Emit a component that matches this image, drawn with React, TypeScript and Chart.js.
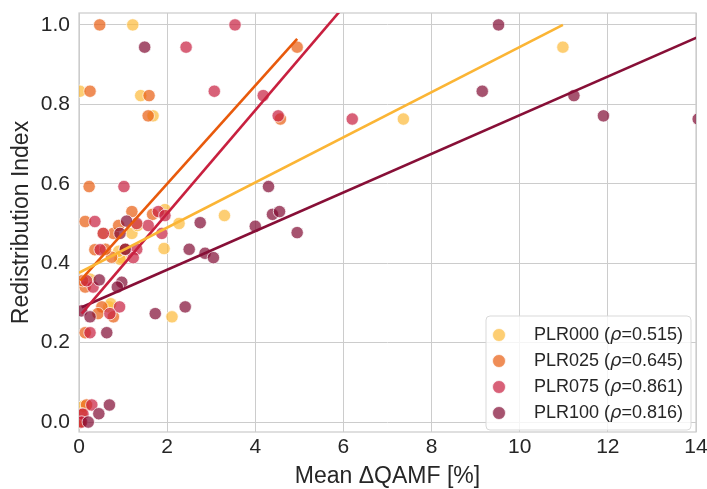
import React, { useEffect, useRef } from "react";
import { Chart, registerables } from "chart.js";

Chart.register(...registerables);

// ---------- data ----------
const seriesNames = ["PLR000", "PLR025", "PLR075", "PLR100"];
const rhoValues = ["0.515", "0.645", "0.861", "0.816"];

const plr000X = [0.02, 1.22, 1.4, 1.68, 3.3, 2.27, 1.93, 2.11, 7.36, 10.98, 1.2, 1.33, 0.97, 0.68, 1.95, 0.93, 0.72, 0.1, 0.03, 0.55, 0.9, 0.25];
const plr000Y = [0.833, 1.0, 0.822, 0.771, 0.52, 0.5, 0.437, 0.265, 0.763, 0.944, 0.475, 0.495, 0.414, 0.29, 0.535, 0.41, 0.298, 0.04, 0.0, 0.475, 0.43, 0.36];

const plr025X = [0.47, 0.25, 1.59, 1.57, 0.23, 4.95, 4.57, 0.14, 1.2, 1.67, 0.78, 0.9, 0.36, 0.74, 0.14, 0.52, 0.43, 0.78, 0.14, 0.17, 0.06, 0.03, 0.6, 1.05, 0.08];
const plr025Y = [1.0, 0.833, 0.822, 0.771, 0.593, 0.944, 0.763, 0.505, 0.53, 0.523, 0.475, 0.495, 0.434, 0.415, 0.34, 0.29, 0.273, 0.265, 0.225, 0.043, 0.02, 0.0, 0.435, 0.435, 0.356];

const plr075X = [3.54, 2.43, 3.07, 4.18, 4.52, 1.02, 6.2, 0.36, 1.8, 1.95, 0.55, 1.57, 1.88, 1.31, 0.48, 1.31, 1.23, 0.32, 0.17, 0.92, 0.7, 0.25, 0.29, 0.09, 0.06];
const plr075Y = [1.0, 0.944, 0.833, 0.822, 0.771, 0.593, 0.763, 0.505, 0.53, 0.52, 0.475, 0.495, 0.475, 0.5, 0.434, 0.435, 0.414, 0.34, 0.356, 0.29, 0.273, 0.225, 0.043, 0.02, 0.0];

const plr100X = [1.49, 4.3, 9.52, 9.15, 11.23, 11.9, 14.05, 4.39, 4.55, 4.0, 4.95, 2.75, 2.5, 2.86, 3.05, 1.08, 0.93, 1.05, 0.46, 0.97, 0.87, 1.73, 2.41, 0.06, 0.25, 0.63, 0.69, 0.45, 0.21];
const plr100Y = [0.944, 0.593, 1.0, 0.833, 0.822, 0.771, 0.763, 0.523, 0.53, 0.493, 0.477, 0.502, 0.435, 0.425, 0.414, 0.506, 0.475, 0.435, 0.358, 0.352, 0.34, 0.273, 0.29, 0.28, 0.265, 0.225, 0.043, 0.021, 0.0];

// regression line end points
const fit000X = [0.0, 10.98];
const fit000Y = [0.376, 1.0];
const fit025X = [0.03, 4.95];
const fit025Y = [0.356, 0.965];
const fit075X = [0.06, 6.2];
const fit075Y = [0.273, 1.071];
const fit100X = [0.06, 14.05];
const fit100Y = [0.289, 0.97];

const xTicks = [0, 2, 4, 6, 8, 10, 12, 14];
const yTicks = [0, 0.2, 0.4, 0.6, 0.8, 1.0];

// ---------- styles ----------
const pointColors = [
  "rgba(252,185,55,0.7)",
  "rgba(232,92,16,0.7)",
  "rgba(200,30,62,0.7)",
  "rgba(128,10,50,0.7)",
];
const lineColors = ["#fbb535", "#e85a0c", "#c8203f", "#870f37"];
const FONT = '"Liberation Sans", Arial, sans-serif';
const TEXT = "#262626";
const GRID = "#cccccc";

const zip = (xs: number[], ys: number[]) => xs.map((x, i) => ({ x, y: ys[i] }));

const framePlugin = {
  id: "frame",
  beforeDatasetsDraw(chart: any) {
    const { ctx, chartArea: a } = chart;
    ctx.save();
    ctx.strokeStyle = GRID;
    ctx.lineWidth = 1.25;
    ctx.strokeRect(a.left, a.top, a.right - a.left, a.bottom - a.top);
    ctx.restore();
  },
};

const legendPlugin = {
  id: "customLegend",
  afterDraw(chart: any) {
    const { ctx, chartArea: a } = chart;
    const w = 205;
    const h = 114;
    const right = a.right - 5;
    const bottom = a.bottom - 2;
    const left = right - w;
    const top = bottom - h;
    ctx.save();
    ctx.beginPath();
    const r = 4;
    ctx.moveTo(left + r, top);
    ctx.lineTo(right - r, top);
    ctx.quadraticCurveTo(right, top, right, top + r);
    ctx.lineTo(right, bottom - r);
    ctx.quadraticCurveTo(right, bottom, right - r, bottom);
    ctx.lineTo(left + r, bottom);
    ctx.quadraticCurveTo(left, bottom, left, bottom - r);
    ctx.lineTo(left, top + r);
    ctx.quadraticCurveTo(left, top, left + r, top);
    ctx.closePath();
    ctx.fillStyle = "rgba(255,255,255,0.8)";
    ctx.fill();
    ctx.strokeStyle = "#d9d9d9";
    ctx.lineWidth = 1;
    ctx.stroke();

    seriesNames.forEach((name, i) => {
      const cy = top + 19 + i * 26;
      ctx.beginPath();
      ctx.arc(left + 13, cy, 6.5, 0, Math.PI * 2);
      ctx.fillStyle = pointColors[i];
      ctx.fill();
      ctx.strokeStyle = "rgba(255,255,255,0.7)";
      ctx.lineWidth = 1;
      ctx.stroke();

      ctx.fillStyle = TEXT;
      ctx.textBaseline = "middle";
      ctx.textAlign = "left";
      let x = left + 48;
      const p1 = `${name} (`;
      ctx.font = `18px ${FONT}`;
      ctx.fillText(p1, x, cy);
      x += ctx.measureText(p1).width;
      ctx.font = `italic 18px "DejaVu Sans", sans-serif`;
      ctx.fillText("ρ", x, cy);
      x += ctx.measureText("ρ").width;
      ctx.font = `18px ${FONT}`;
      ctx.fillText(`=${rhoValues[i]})`, x, cy);
    });
    ctx.restore();
  },
};

const zeroPad = (s: any) => {
  s.paddingLeft = 0;
  s.paddingRight = 0;
  s.paddingTop = 0;
  s.paddingBottom = 0;
};

export default function App() {
  const ref = useRef<HTMLCanvasElement | null>(null);

  useEffect(() => {
    if (!ref.current) return;
    const xs = [plr000X, plr025X, plr075X, plr100X];
    const ys = [plr000Y, plr025Y, plr075Y, plr100Y];
    const fx = [fit000X, fit025X, fit075X, fit100X];
    const fy = [fit000Y, fit025Y, fit075Y, fit100Y];

    const scatterSets = seriesNames.map((name, i) => ({
      label: `${name} (ρ=${rhoValues[i]})`,
      data: zip(xs[i], ys[i]),
      backgroundColor: pointColors[i],
      borderColor: "rgba(255,255,255,0.7)",
      pointRadius: 6.2,
      pointBorderWidth: 1,
      showLine: false,
      order: 4 - i,
    }));
    const lineSets = seriesNames.map((name, i) => ({
      label: `${name} fit`,
      data: zip(fx[i], fy[i]),
      borderColor: lineColors[i],
      backgroundColor: lineColors[i],
      borderWidth: 2.6,
      pointRadius: 0,
      showLine: true,
      order: 0,
    }));

    const chart = new Chart(ref.current, {
      type: "scatter",
      data: { datasets: [...scatterSets, ...lineSets] as any },
      options: {
        responsive: false,
        animation: false,
        devicePixelRatio: 1,
        layout: { padding: { top: 13, right: 11, bottom: 0, left: 0 } },
        plugins: { legend: { display: false }, tooltip: { enabled: false } },
        scales: {
          x: {
            type: "linear",
            min: 0,
            max: 14,
            afterBuildTicks: (s: any) => {
              s.ticks = xTicks.map((v) => ({ value: v }));
            },
            afterFit: (s: any) => {
              s.height = 57;
              zeroPad(s);
            },
            grid: { color: GRID, lineWidth: 1, drawTicks: false },
            border: { display: false },
            ticks: {
              padding: 3,
              color: TEXT,
              font: { family: FONT, size: 21 },
              callback: (v: any) => String(v),
            },
            title: {
              display: true,
              text: "Mean ΔQAMF [%]",
              color: TEXT,
              font: { family: FONT, size: 23, lineHeight: 1 },
              padding: { top: 0, bottom: 1 },
            },
          },
          y: {
            type: "linear",
            min: -0.025,
            max: 1.03,
            afterBuildTicks: (s: any) => {
              s.ticks = yTicks.map((v) => ({ value: v }));
            },
            afterFit: (s: any) => {
              s.width = 79;
              zeroPad(s);
            },
            grid: { color: GRID, lineWidth: 1, drawTicks: false },
            border: { display: false },
            ticks: {
              padding: 9,
              color: TEXT,
              font: { family: FONT, size: 21 },
              callback: (v: any) => Number(v).toFixed(1),
            },
            title: {
              display: true,
              text: "Redistribution Index",
              color: TEXT,
              font: { family: FONT, size: 23, lineHeight: 1 },
              padding: { top: 10, bottom: 0 },
            },
          },
        },
      },
      plugins: [framePlugin, legendPlugin],
    });
    return () => chart.destroy();
  }, []);

  return (
    <div style={{ position: "absolute", left: 0, top: 0, width: 707, height: 489, background: "#fff" }}>
      <canvas ref={ref} width={707} height={489} style={{ display: "block" }} />
    </div>
  );
}
